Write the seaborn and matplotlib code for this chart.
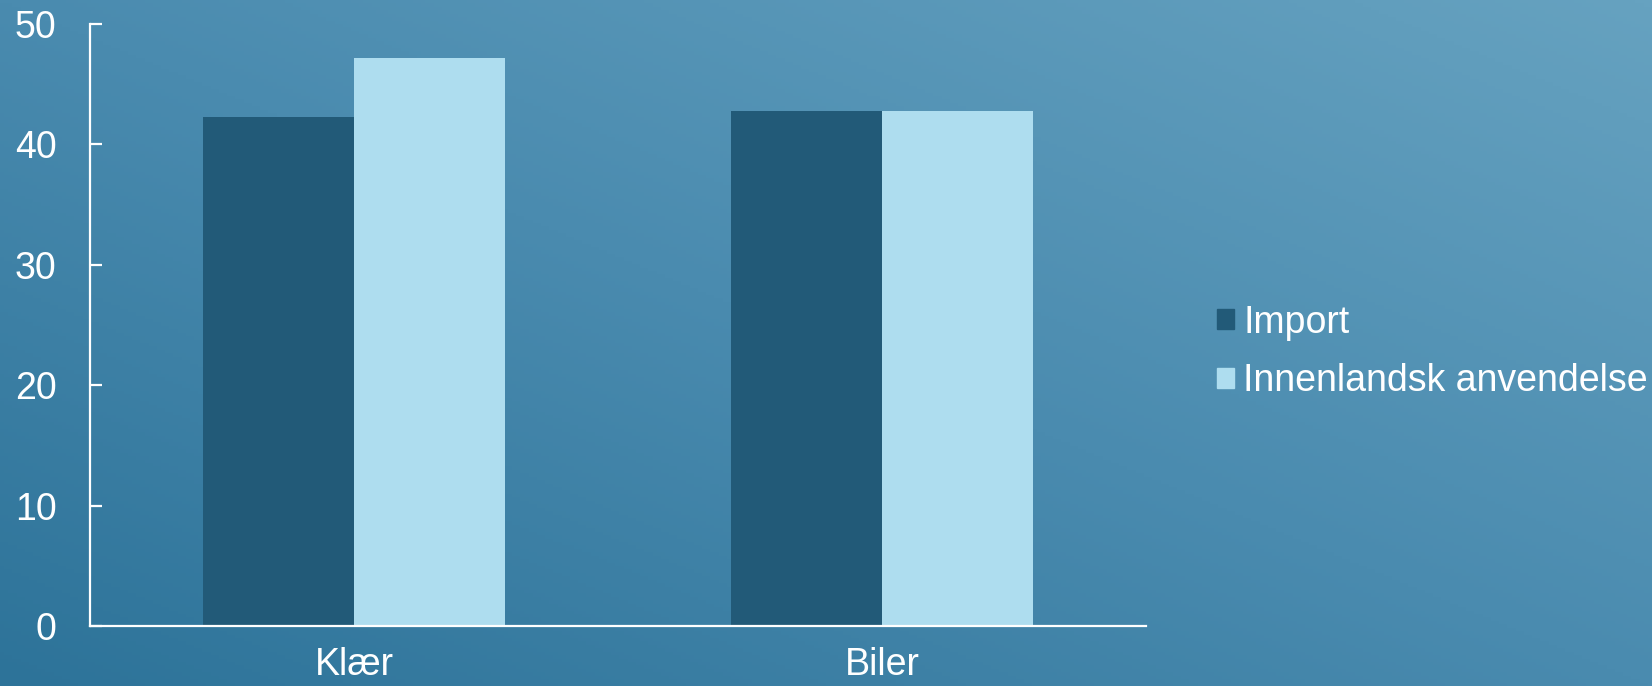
import numpy as np
import pandas as pd
import seaborn as sns
import matplotlib.pyplot as plt
from matplotlib.colors import LinearSegmentedColormap

# -------- DATA --------#
categories = ['Klær', 'Biler']
series_names = ['Import', 'Innenlandsk anvendelse']
import_values = [42.3, 42.8]
domestic_values = [47.2, 42.8]

df = pd.DataFrame({
    'kategori': categories * 2,
    'serie': [series_names[0]] * 2 + [series_names[1]] * 2,
    'verdi': import_values + domestic_values,
})

bar_colors = ['#225A78', '#AEDDEF']

# -------- STYLE --------#
sns.set_style('white')
plt.rcParams['font.family'] = ['Liberation Sans', 'DejaVu Sans']
plt.rcParams['font.size'] = 27

fig = plt.figure(figsize=(16.52, 6.86), dpi=100)

# Diagonal gradient background
bg = fig.add_axes([0, 0, 1, 1], zorder=-1)
xx, yy = np.meshgrid(np.linspace(0, 1, 400), np.linspace(0, 1, 200))
grad = (xx + yy) / 2
cmap = LinearSegmentedColormap.from_list('bg', ['#2D7399', '#4A8BAF', '#66A2C0'])
bg.imshow(grad, cmap=cmap, origin='lower', aspect='auto', extent=[0, 1, 0, 1])
bg.axis('off')

ax = fig.add_axes([90 / 1652, 60 / 686, (1146 - 90) / 1652, (626 - 24) / 686])
ax.patch.set_alpha(0)

sns.barplot(data=df, x='kategori', y='verdi', hue='serie', order=categories,
            hue_order=series_names, palette=bar_colors, width=0.572,
            saturation=1, linewidth=0, edgecolor='none', ax=ax, legend=False)

ax.set_xlim(-0.5, 1.5)
ax.set_ylim(0, 50)
ax.set_yticks([0, 10, 20, 30, 40, 50])
ax.set_xlabel('')
ax.set_ylabel('')

for side in ['top', 'right']:
    ax.spines[side].set_visible(False)
for side in ['left', 'bottom']:
    ax.spines[side].set_color('white')
    ax.spines[side].set_linewidth(1.6)

ax.tick_params(axis='y', left=True, direction='in', length=8.5, width=1.6,
               color='white', labelcolor='white', labelsize=27, pad=24)
ax.tick_params(axis='x', bottom=False, length=0, labelcolor='white',
               labelsize=27, pad=15)

# Legend
handles = [plt.Rectangle((0, 0), 1, 1, color=c) for c in bar_colors]
leg = fig.legend(handles, series_names, loc='center left',
                 bbox_to_anchor=(1217 / 1652, 0.487), frameon=False,
                 fontsize=27, handlelength=0.45, handleheight=0.45,
                 handletextpad=0.25, labelspacing=0.6, borderpad=0,
                 borderaxespad=0)
for t in leg.get_texts():
    t.set_color('white')

fig.savefig('out.png', dpi=100)
